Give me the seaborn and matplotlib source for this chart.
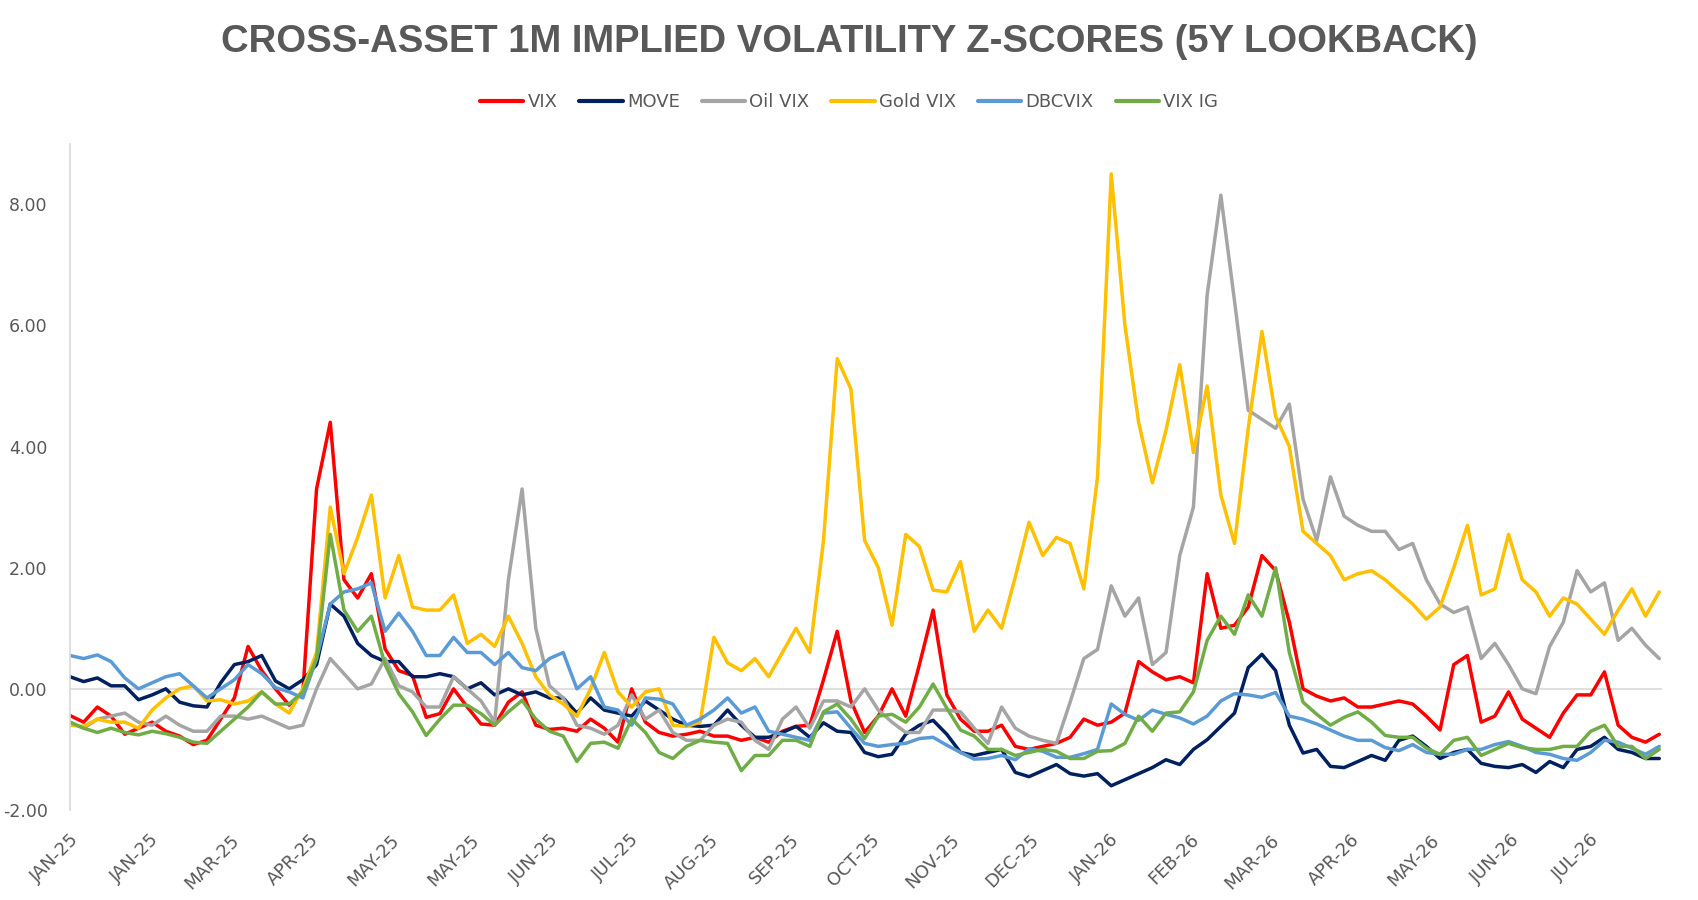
import matplotlib
matplotlib.use("Agg")
import matplotlib.pyplot as plt
import numpy as np
import pandas as pd
import seaborn as sns
from matplotlib.ticker import FuncFormatter

# ── Data: 1M implied vol z-scores (~3.4 trading days/sample) ──
vix = [
    -0.44, -0.55, -0.30, -0.45, -0.75, -0.65, -0.55, -0.70, -0.78, -0.92,
    -0.85, -0.50, -0.15, 0.70, 0.30, 0.00, -0.27, -0.05, 3.30, 4.40,
    1.80, 1.50, 1.90, 0.66, 0.30, 0.22, -0.47, -0.41, 0.00, -0.30,
    -0.58, -0.60, -0.22, -0.05, -0.60, -0.67, -0.65, -0.70, -0.50, -0.65,
    -0.88, 0.00, -0.55, -0.72, -0.78, -0.75, -0.70, -0.78, -0.78, -0.85,
    -0.80, -0.88, -0.70, -0.62, -0.60, 0.15, 0.95, -0.20, -0.72, -0.45,
    0.00, -0.45, 0.40, 1.30, -0.10, -0.50, -0.70, -0.70, -0.60, -0.95,
    -1.00, -0.95, -0.90, -0.80, -0.50, -0.60, -0.55, -0.40, 0.45, 0.28,
    0.15, 0.20, 0.10, 1.90, 1.00, 1.05, 1.35, 2.20, 1.95, 1.10,
    0.00, -0.12, -0.20, -0.15, -0.30, -0.30, -0.25, -0.20, -0.25, -0.45,
    -0.68, 0.40, 0.55, -0.55, -0.45, -0.05, -0.50, -0.65, -0.80, -0.40,
    -0.10, -0.10, 0.28, -0.60, -0.80, -0.88, -0.75,
]
move = [
    0.20, 0.12, 0.18, 0.05, 0.05, -0.18, -0.10, 0.00, -0.22, -0.28,
    -0.30, 0.10, 0.40, 0.45, 0.55, 0.13, 0.00, 0.15, 0.40, 1.40,
    1.20, 0.75, 0.55, 0.45, 0.45, 0.20, 0.20, 0.25, 0.20, 0.00,
    0.10, -0.10, 0.00, -0.10, -0.05, -0.15, -0.15, -0.40, -0.15, -0.35,
    -0.40, -0.45, -0.20, -0.35, -0.50, -0.60, -0.62, -0.60, -0.35, -0.60,
    -0.80, -0.80, -0.72, -0.62, -0.80, -0.56, -0.70, -0.72, -1.05, -1.12,
    -1.08, -0.75, -0.60, -0.52, -0.75, -1.05, -1.10, -1.05, -1.00, -1.38,
    -1.45, -1.35, -1.25, -1.40, -1.44, -1.40, -1.60, -1.50, -1.40, -1.30,
    -1.17, -1.25, -1.00, -0.84, -0.62, -0.40, 0.35, 0.57, 0.30, -0.60,
    -1.06, -1.00, -1.28, -1.30, -1.20, -1.10, -1.18, -0.85, -0.78, -0.95,
    -1.15, -1.05, -1.00, -1.23, -1.28, -1.30, -1.25, -1.38, -1.20, -1.30,
    -1.00, -0.95, -0.80, -1.00, -1.05, -1.15, -1.15,
]
oil_vix = [
    -0.55, -0.65, -0.50, -0.45, -0.40, -0.55, -0.60, -0.45, -0.60, -0.70,
    -0.70, -0.45, -0.45, -0.50, -0.45, -0.55, -0.65, -0.60, 0.00, 0.50,
    0.25, 0.00, 0.08, 0.50, 0.05, -0.05, -0.30, -0.30, 0.20, 0.00,
    -0.20, -0.55, 1.80, 3.30, 1.00, 0.05, -0.15, -0.60, -0.65, -0.75,
    -0.60, -0.10, -0.50, -0.35, -0.72, -0.85, -0.85, -0.60, -0.50, -0.55,
    -0.85, -1.00, -0.50, -0.30, -0.65, -0.20, -0.20, -0.30, 0.00, -0.35,
    -0.55, -0.72, -0.72, -0.35, -0.35, -0.38, -0.65, -0.90, -0.30, -0.65,
    -0.78, -0.85, -0.90, -0.22, 0.50, 0.65, 1.70, 1.20, 1.50, 0.40,
    0.60, 2.20, 3.00, 6.50, 8.15, 6.40, 4.60, 4.45, 4.30, 4.70,
    3.13, 2.45, 3.50, 2.85, 2.70, 2.60, 2.60, 2.30, 2.40, 1.80,
    1.40, 1.26, 1.35, 0.50, 0.75, 0.40, 0.00, -0.08, 0.70, 1.10,
    1.95, 1.60, 1.75, 0.80, 1.00, 0.72, 0.50,
]
gold_vix = [
    -0.60, -0.62, -0.50, -0.55, -0.55, -0.65, -0.35, -0.15, 0.00, 0.05,
    -0.20, -0.18, -0.25, -0.20, -0.05, -0.25, -0.40, 0.00, 0.60, 3.00,
    1.90, 2.50, 3.20, 1.50, 2.20, 1.35, 1.30, 1.30, 1.55, 0.75,
    0.90, 0.70, 1.20, 0.75, 0.20, -0.10, -0.25, -0.45, 0.00, 0.60,
    -0.05, -0.30, -0.05, 0.00, -0.60, -0.62, -0.55, 0.85, 0.43, 0.30,
    0.50, 0.20, 0.60, 1.00, 0.60, 2.45, 5.45, 4.95, 2.45, 2.00,
    1.05, 2.55, 2.35, 1.63, 1.60, 2.10, 0.95, 1.30, 1.00, 1.85,
    2.75, 2.20, 2.50, 2.40, 1.65, 3.50, 8.50, 6.00, 4.40, 3.40,
    4.27, 5.35, 3.90, 5.00, 3.20, 2.40, 4.30, 5.90, 4.50, 4.00,
    2.60, 2.40, 2.20, 1.80, 1.90, 1.95, 1.80, 1.60, 1.40, 1.15,
    1.35, 2.00, 2.70, 1.55, 1.65, 2.55, 1.80, 1.60, 1.20, 1.50,
    1.40, 1.15, 0.90, 1.30, 1.65, 1.20, 1.60,
]
dbcvix = [
    0.55, 0.50, 0.56, 0.45, 0.18, 0.00, 0.10, 0.20, 0.25, 0.05,
    -0.15, 0.00, 0.15, 0.40, 0.25, 0.02, -0.05, -0.15, 0.50, 1.40,
    1.60, 1.65, 1.75, 0.95, 1.25, 0.95, 0.55, 0.55, 0.85, 0.60,
    0.60, 0.40, 0.60, 0.35, 0.30, 0.50, 0.60, 0.00, 0.20, -0.30,
    -0.35, -0.60, -0.15, -0.17, -0.25, -0.60, -0.50, -0.35, -0.15, -0.40,
    -0.30, -0.70, -0.75, -0.80, -0.85, -0.40, -0.38, -0.65, -0.90, -0.95,
    -0.92, -0.90, -0.82, -0.80, -0.93, -1.05, -1.16, -1.15, -1.10, -1.17,
    -0.99, -1.03, -1.13, -1.13, -1.07, -1.00, -0.25, -0.42, -0.52, -0.35,
    -0.42, -0.48, -0.58, -0.45, -0.20, -0.08, -0.10, -0.14, -0.06, -0.45,
    -0.50, -0.58, -0.68, -0.78, -0.85, -0.85, -0.97, -1.02, -0.92, -1.05,
    -1.08, -1.08, -1.00, -1.00, -0.92, -0.87, -0.95, -1.05, -1.08, -1.15,
    -1.18, -1.05, -0.85, -0.88, -0.98, -1.08, -0.95,
]
vix_ig = [
    -0.55, -0.65, -0.72, -0.65, -0.72, -0.76, -0.70, -0.74, -0.80, -0.88,
    -0.90, -0.70, -0.50, -0.30, -0.05, -0.25, -0.25, -0.05, 0.50, 2.55,
    1.30, 0.95, 1.20, 0.40, -0.08, -0.38, -0.77, -0.50, -0.27, -0.27,
    -0.41, -0.60, -0.38, -0.19, -0.50, -0.70, -0.78, -1.20, -0.90, -0.88,
    -0.98, -0.50, -0.72, -1.05, -1.15, -0.95, -0.85, -0.88, -0.90, -1.35,
    -1.10, -1.10, -0.85, -0.85, -0.95, -0.38, -0.25, -0.50, -0.82, -0.45,
    -0.42, -0.55, -0.30, 0.08, -0.32, -0.68, -0.78, -1.00, -1.00, -1.10,
    -1.05, -1.00, -1.03, -1.15, -1.15, -1.03, -1.02, -0.90, -0.45, -0.70,
    -0.40, -0.38, -0.05, 0.80, 1.20, 0.90, 1.55, 1.20, 2.00, 0.60,
    -0.22, -0.42, -0.60, -0.47, -0.38, -0.55, -0.77, -0.80, -0.80, -0.98,
    -1.08, -0.85, -0.80, -1.10, -1.00, -0.90, -0.97, -1.00, -1.00, -0.95,
    -0.95, -0.70, -0.60, -0.95, -0.95, -1.15, -1.00,
]

date_labels = [
    "JAN-25", "JAN-25", "MAR-25", "APR-25", "MAY-25", "MAY-25", "JUN-25",
    "JUL-25", "AUG-25", "SEP-25", "OCT-25", "NOV-25", "DEC-25", "JAN-26",
    "FEB-26", "MAR-26", "APR-26", "MAY-26", "JUN-26", "JUL-26",
]

series_names = ["VIX", "MOVE", "Oil VIX", "Gold VIX", "DBCVIX", "VIX IG"]
series_colors = ["#FF0000", "#002060", "#A5A5A5", "#FFC000", "#5B9BD5", "#70AD47"]

SAMPLES_PER_LABEL = 5.84   # samples between two date labels
TEXT_GREY = "#595959"
AXIS_GREY = "#D9D9D9"

# ── Long-form table ───────────────────────────────────────────────────────────
frames = []
for name, values in zip(series_names, [vix, move, oil_vix, gold_vix, dbcvix, vix_ig]):
    frames.append(pd.DataFrame({"obs": np.arange(len(values)), "z": values, "series": name}))
df = pd.concat(frames, ignore_index=True)

# ── Figure ────────────────────────────────────────────────────────────────────
sns.set_theme(style="white")
plt.rcParams["font.family"] = ["DejaVu Sans"]

fig = plt.figure(figsize=(16.98, 9), dpi=100)
ax = fig.add_axes([0.0412, 0.10, 0.9376, 0.7404])

ax.axhline(0, color=AXIS_GREY, linewidth=1.2, zorder=0)

sns.lineplot(
    data=df, x="obs", y="z", hue="series",
    hue_order=series_names, palette=series_colors,
    linewidth=2.5, estimator=None, sort=False, ax=ax,
)

n_obs = len(vix)
ax.set_xlim(0, n_obs - 0.8)
ax.set_ylim(-2, 9)
ax.set_yticks(np.arange(-2, 9, 2))
ax.yaxis.set_major_formatter(FuncFormatter(lambda v, _: f"{v:.2f}"))

ticks = np.arange(len(date_labels)) * SAMPLES_PER_LABEL
ax.set_xticks(ticks)
ax.set_xticklabels(date_labels, rotation=45, ha="right", rotation_mode="anchor")

ax.tick_params(axis="y", length=0, pad=16, labelsize=12.5, labelcolor=TEXT_GREY)
ax.tick_params(axis="x", length=0, pad=15, labelsize=13, labelcolor=TEXT_GREY)
ax.set_xlabel("")
ax.set_ylabel("")

for side in ["top", "right", "bottom"]:
    ax.spines[side].set_visible(False)
ax.spines["left"].set_color(AXIS_GREY)
ax.spines["left"].set_linewidth(1.2)

# Legend across the top
handles, labels = ax.get_legend_handles_labels()
ax.get_legend().remove()
leg = fig.legend(
    handles, labels, loc="center", bbox_to_anchor=(0.5, 1 - 102 / 900),
    ncol=6, frameon=False, fontsize=13, handlelength=2.4,
    handletextpad=0.25, columnspacing=1.2,
)
for text in leg.get_texts():
    text.set_color(TEXT_GREY)
for line in leg.get_lines():
    line.set_linewidth(3)

fig.text(
    0.5, 1 - 42 / 900,
    "CROSS-ASSET 1M IMPLIED VOLATILITY Z-SCORES (5Y LOOKBACK)",
    ha="center", va="center", fontsize=27.5, fontweight="bold", color=TEXT_GREY,
    family=["Liberation Sans", "DejaVu Sans"],
)

fig.savefig("out.png", dpi=100)
plt.close(fig)
